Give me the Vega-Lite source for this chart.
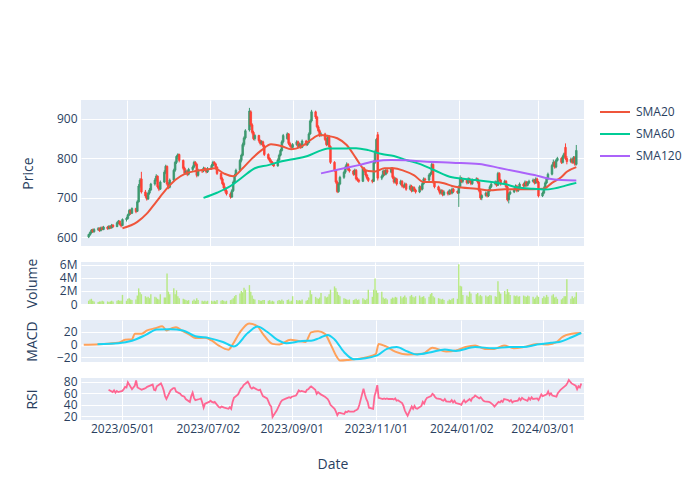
{
"$schema": "https://vega.github.io/schema/vega-lite/v6.json",
"padding": {"left": 20, "top": 96, "right": 0, "bottom": 0},
"background": "white",
"config": {
 "font": "Open Sans",
 "view": {"fill": "#E5ECF6", "stroke": null},
 "axis": {"domain": false, "ticks": false, "tickSize": 0, "gridColor": "#ffffff", "gridWidth": 1, "labelColor": "#2a3f5f", "titleColor": "#2a3f5f", "labelFontSize": 12, "titleFontSize": 14, "titleFontWeight": "normal", "labelPadding": 4, "labelOverlap": false, "labelFont": "Open Sans", "titleFont": "Open Sans"}
},
"spacing": 16,
"bounds": "flush",
"resolve": {"scale": {"x": "independent", "y": "independent", "color": "independent"}},
"datasets": {
"p": [
{"d":"2023-04-03","o":601,"h":609,"l":598,"c":607,"v":0.5},
{"d":"2023-04-04","o":606,"h":615,"l":604,"c":612,"v":0.7},
{"d":"2023-04-05","o":612,"h":621,"l":609,"c":618,"v":0.8},
{"d":"2023-04-06","o":619,"h":622,"l":611,"c":614,"v":0.5},
{"d":"2023-04-07","o":614,"h":623,"l":612,"c":620,"v":0.4},
{"d":"2023-04-10","o":620,"h":626,"l":616,"c":622,"v":0.3},
{"d":"2023-04-11","o":623,"h":625,"l":614,"c":617,"v":0.4},
{"d":"2023-04-12","o":617,"h":627,"l":615,"c":624,"v":0.4},
{"d":"2023-04-13","o":624,"h":628,"l":618,"c":620,"v":0.5},
{"d":"2023-04-14","o":620,"h":629,"l":618,"c":626,"v":0.4},
{"d":"2023-04-17","o":626,"h":629,"l":619,"c":622,"v":0.4},
{"d":"2023-04-18","o":622,"h":631,"l":620,"c":628,"v":0.3},
{"d":"2023-04-19","o":628,"h":630,"l":621,"c":624,"v":0.4},
{"d":"2023-04-20","o":624,"h":634,"l":622,"c":631,"v":0.5},
{"d":"2023-04-21","o":631,"h":633,"l":624,"c":627,"v":0.4,"r":66},
{"d":"2023-04-24","o":627,"h":640,"l":626,"c":637,"v":0.5,"r":62},
{"d":"2023-04-25","o":637,"h":644,"l":633,"c":641,"v":0.6,"r":65},
{"d":"2023-04-26","o":641,"h":643,"l":630,"c":633,"v":0.5,"r":61},
{"d":"2023-04-27","o":633,"h":636,"l":625,"c":629,"v":0.5,"r":64},
{"d":"2023-04-28","o":630,"h":648,"l":628,"c":645,"v":1.4,"r":62},
{"d":"2023-05-01","o":645,"h":652,"l":640,"c":648,"v":0.5,"r":64},
{"d":"2023-05-02","o":648,"h":660,"l":645,"c":657,"v":0.8,"r":67},
{"d":"2023-05-03","o":657,"h":672,"l":654,"c":668,"v":0.9,"r":71},
{"d":"2023-05-04","o":668,"h":671,"l":657,"c":661,"v":0.7,"r":70},
{"d":"2023-05-05","o":661,"h":676,"l":659,"c":673,"v":0.6,"r":79},
{"d":"2023-05-08","o":673,"h":675,"l":661,"c":665,"v":0.7,"r":67},
{"d":"2023-05-09","o":666,"h":694,"l":664,"c":690,"v":1.3,"r":70},
{"d":"2023-05-10","o":690,"h":735,"l":688,"c":730,"v":2.4,"r":73},
{"d":"2023-05-11","o":730,"h":750,"l":725,"c":745,"v":1.8,"r":82},
{"d":"2023-05-12","o":748,"h":766,"l":711,"c":715,"v":1.5,"r":70},
{"d":"2023-05-15","o":715,"h":720,"l":700,"c":705,"v":1.2,"r":66},
{"d":"2023-05-16","o":705,"h":712,"l":693,"c":697,"v":1.0,"r":67},
{"d":"2023-05-17","o":697,"h":716,"l":695,"c":712,"v":1.1,"r":68},
{"d":"2023-05-18","o":712,"h":725,"l":708,"c":720,"v":0.9,"r":69},
{"d":"2023-05-19","o":720,"h":738,"l":717,"c":735,"v":1.5,"r":71},
{"d":"2023-05-22","o":735,"h":750,"l":731,"c":745,"v":1.1,"r":74},
{"d":"2023-05-23","o":745,"h":760,"l":741,"c":755,"v":1.0,"r":75},
{"d":"2023-05-24","o":755,"h":757,"l":724,"c":728,"v":0.8,"r":66},
{"d":"2023-05-25","o":728,"h":732,"l":717,"c":722,"v":0.7,"r":65},
{"d":"2023-05-26","o":722,"h":744,"l":720,"c":740,"v":1.5,"r":72},
{"d":"2023-05-29","o":740,"h":770,"l":738,"c":765,"v":1.0,"r":77},
{"d":"2023-05-30","o":765,"h":784,"l":760,"c":780,"v":1.0,"r":72},
{"d":"2023-05-31","o":780,"h":782,"l":731,"c":735,"v":4.7,"r":65},
{"d":"2023-06-01","o":735,"h":740,"l":722,"c":727,"v":1.9,"r":55},
{"d":"2023-06-02","o":727,"h":749,"l":724,"c":745,"v":1.5,"r":50},
{"d":"2023-06-05","o":745,"h":774,"l":742,"c":770,"v":2.4,"r":65},
{"d":"2023-06-06","o":770,"h":794,"l":766,"c":790,"v":1.5,"r":67},
{"d":"2023-06-07","o":790,"h":808,"l":786,"c":805,"v":2.1,"r":69},
{"d":"2023-06-08","o":805,"h":813,"l":798,"c":810,"v":1.2,"r":69},
{"d":"2023-06-09","o":810,"h":812,"l":790,"c":795,"v":0.9,"r":63},
{"d":"2023-06-12","o":795,"h":797,"l":770,"c":775,"v":0.8,"r":59},
{"d":"2023-06-13","o":775,"h":779,"l":758,"c":762,"v":0.7,"r":56},
{"d":"2023-06-14","o":762,"h":772,"l":758,"c":768,"v":0.6,"r":55},
{"d":"2023-06-15","o":768,"h":771,"l":755,"c":760,"v":0.5,"r":54},
{"d":"2023-06-16","o":760,"h":776,"l":757,"c":772,"v":0.6,"r":50},
{"d":"2023-06-19","o":772,"h":782,"l":768,"c":778,"v":0.5,"r":45},
{"d":"2023-06-20","o":778,"h":794,"l":775,"c":790,"v":0.7,"r":55},
{"d":"2023-06-21","o":790,"h":793,"l":781,"c":785,"v":0.5,"r":61},
{"d":"2023-06-22","o":785,"h":788,"l":752,"c":757,"v":0.9,"r":52},
{"d":"2023-06-23","o":757,"h":774,"l":754,"c":770,"v":0.6,"r":48},
{"d":"2023-06-26","o":770,"h":773,"l":763,"c":768,"v":0.5,"r":50},
{"d":"2023-06-27","o":768,"h":779,"l":765,"c":775,"v":0.4,"r":51},
{"d":"2023-06-28","o":775,"h":778,"l":768,"c":772,"v":0.5,"r":44},
{"d":"2023-06-29","o":772,"h":775,"l":762,"c":766,"v":0.4,"r":35},
{"d":"2023-06-30","o":766,"h":778,"l":763,"c":774,"v":0.5,"r":42},
{"d":"2023-07-03","o":774,"h":786,"l":771,"c":782,"v":0.5,"r":45},
{"d":"2023-07-04","o":782,"h":794,"l":779,"c":790,"v":0.4,"r":47},
{"d":"2023-07-05","o":790,"h":793,"l":782,"c":786,"v":0.5,"r":45},
{"d":"2023-07-06","o":786,"h":789,"l":774,"c":778,"v":0.4,"r":44},
{"d":"2023-07-07","o":778,"h":780,"l":758,"c":762,"v":0.6,"r":45},
{"d":"2023-07-10","o":762,"h":764,"l":744,"c":748,"v":0.5,"r":36},
{"d":"2023-07-11","o":748,"h":752,"l":732,"c":736,"v":0.6,"r":35},
{"d":"2023-07-12","o":736,"h":740,"l":721,"c":725,"v":0.5,"r":37},
{"d":"2023-07-13","o":725,"h":729,"l":713,"c":718,"v":0.4,"r":36},
{"d":"2023-07-14","o":718,"h":722,"l":706,"c":710,"v":0.5,"r":35},
{"d":"2023-07-17","o":710,"h":714,"l":698,"c":702,"v":0.6,"r":33},
{"d":"2023-07-18","o":702,"h":722,"l":700,"c":718,"v":0.7,"r":36},
{"d":"2023-07-19","o":718,"h":744,"l":715,"c":740,"v":0.9,"r":33},
{"d":"2023-07-20","o":740,"h":761,"l":736,"c":757,"v":1.2,"r":45},
{"d":"2023-07-21","o":757,"h":774,"l":753,"c":770,"v":1.4,"r":52},
{"d":"2023-07-24","o":770,"h":799,"l":767,"c":795,"v":1.6,"r":58},
{"d":"2023-07-25","o":795,"h":812,"l":790,"c":808,"v":2.0,"r":63},
{"d":"2023-07-26","o":808,"h":840,"l":805,"c":835,"v":1.8,"r":68},
{"d":"2023-07-27","o":835,"h":856,"l":830,"c":852,"v":2.5,"r":70},
{"d":"2023-07-28","o":852,"h":874,"l":848,"c":870,"v":2.2,"r":74},
{"d":"2023-07-31","o":872,"h":928,"l":868,"c":920,"v":2.9,"r":80},
{"d":"2023-08-01","o":918,"h":922,"l":880,"c":885,"v":1.9,"r":76},
{"d":"2023-08-02","o":885,"h":889,"l":861,"c":866,"v":1.3,"r":70},
{"d":"2023-08-03","o":866,"h":870,"l":846,"c":850,"v":0.8,"r":68},
{"d":"2023-08-04","o":850,"h":862,"l":845,"c":858,"v":0.7,"r":70},
{"d":"2023-08-07","o":858,"h":860,"l":840,"c":845,"v":0.6,"r":66},
{"d":"2023-08-08","o":845,"h":848,"l":833,"c":838,"v":0.5,"r":65},
{"d":"2023-08-09","o":838,"h":846,"l":834,"c":842,"v":0.5,"r":66},
{"d":"2023-08-10","o":842,"h":845,"l":828,"c":832,"v":0.6,"r":60},
{"d":"2023-08-11","o":832,"h":835,"l":806,"c":810,"v":0.6,"r":55},
{"d":"2023-08-14","o":810,"h":813,"l":796,"c":800,"v":0.5,"r":51},
{"d":"2023-08-15","o":800,"h":803,"l":790,"c":794,"v":0.6,"r":46},
{"d":"2023-08-16","o":794,"h":798,"l":786,"c":790,"v":0.4,"r":40},
{"d":"2023-08-17","o":790,"h":793,"l":781,"c":785,"v":0.5,"r":37},
{"d":"2023-08-18","o":785,"h":789,"l":778,"c":781,"v":0.4,"r":19},
{"d":"2023-08-21","o":781,"h":800,"l":779,"c":796,"v":0.5,"r":30},
{"d":"2023-08-22","o":796,"h":812,"l":793,"c":808,"v":0.6,"r":35},
{"d":"2023-08-23","o":808,"h":824,"l":805,"c":820,"v":0.5,"r":40},
{"d":"2023-08-24","o":820,"h":846,"l":817,"c":842,"v":0.7,"r":45},
{"d":"2023-08-25","o":842,"h":862,"l":838,"c":858,"v":0.5,"r":48},
{"d":"2023-08-28","o":850,"h":866,"l":847,"c":862,"v":0.6,"r":51},
{"d":"2023-08-29","o":862,"h":864,"l":834,"c":838,"v":0.7,"r":52},
{"d":"2023-08-30","o":838,"h":842,"l":828,"c":832,"v":0.4,"r":53},
{"d":"2023-08-31","o":832,"h":835,"l":824,"c":828,"v":0.5,"r":52},
{"d":"2023-09-01","o":828,"h":839,"l":826,"c":835,"v":1.2,"r":54},
{"d":"2023-09-04","o":835,"h":846,"l":832,"c":842,"v":0.6,"r":56},
{"d":"2023-09-05","o":842,"h":845,"l":826,"c":830,"v":0.5,"r":60},
{"d":"2023-09-06","o":830,"h":840,"l":827,"c":836,"v":0.6,"r":65},
{"d":"2023-09-07","o":836,"h":838,"l":824,"c":828,"v":0.5,"r":63},
{"d":"2023-09-08","o":828,"h":848,"l":826,"c":844,"v":0.7,"r":64},
{"d":"2023-09-11","o":844,"h":847,"l":831,"c":835,"v":0.5,"r":62},
{"d":"2023-09-12","o":835,"h":844,"l":832,"c":840,"v":0.6,"r":66},
{"d":"2023-09-13","o":840,"h":866,"l":838,"c":862,"v":1.0,"r":67},
{"d":"2023-09-14","o":862,"h":899,"l":860,"c":895,"v":2.1,"r":70},
{"d":"2023-09-15","o":895,"h":923,"l":891,"c":918,"v":1.5,"r":72},
{"d":"2023-09-18","o":918,"h":921,"l":900,"c":905,"v":1.1,"r":66},
{"d":"2023-09-19","o":905,"h":908,"l":876,"c":880,"v":0.9,"r":59},
{"d":"2023-09-20","o":880,"h":884,"l":866,"c":870,"v":0.8,"r":62},
{"d":"2023-09-21","o":870,"h":874,"l":854,"c":858,"v":1.0,"r":60},
{"d":"2023-09-22","o":858,"h":866,"l":855,"c":862,"v":1.7,"r":58},
{"d":"2023-09-25","o":862,"h":865,"l":844,"c":848,"v":1.2,"r":54},
{"d":"2023-09-26","o":848,"h":852,"l":831,"c":835,"v":1.0,"r":52},
{"d":"2023-09-27","o":835,"h":860,"l":833,"c":856,"v":1.1,"r":50},
{"d":"2023-09-28","o":856,"h":859,"l":826,"c":830,"v":1.5,"r":46},
{"d":"2023-09-29","o":830,"h":833,"l":786,"c":790,"v":2.2,"r":40},
{"d":"2023-10-02","o":790,"h":793,"l":766,"c":770,"v":2.7,"r":33},
{"d":"2023-10-03","o":770,"h":773,"l":736,"c":740,"v":2.4,"r":28},
{"d":"2023-10-04","o":740,"h":744,"l":712,"c":716,"v":1.9,"r":22},
{"d":"2023-10-05","o":716,"h":739,"l":713,"c":735,"v":1.4,"r":26},
{"d":"2023-10-06","o":735,"h":756,"l":732,"c":752,"v":1.2,"r":26},
{"d":"2023-10-09","o":752,"h":769,"l":748,"c":765,"v":0.9,"r":24},
{"d":"2023-10-10","o":765,"h":782,"l":761,"c":778,"v":0.8,"r":28},
{"d":"2023-10-11","o":778,"h":790,"l":774,"c":785,"v":0.7,"r":27},
{"d":"2023-10-12","o":785,"h":788,"l":768,"c":772,"v":0.6,"r":29},
{"d":"2023-10-13","o":772,"h":776,"l":764,"c":768,"v":0.7,"r":28},
{"d":"2023-10-16","o":768,"h":771,"l":756,"c":760,"v":0.6,"r":28},
{"d":"2023-10-17","o":760,"h":774,"l":757,"c":770,"v":0.7,"r":30},
{"d":"2023-10-18","o":770,"h":773,"l":744,"c":748,"v":0.8,"r":31},
{"d":"2023-10-19","o":748,"h":752,"l":741,"c":745,"v":0.6,"r":33},
{"d":"2023-10-20","o":745,"h":749,"l":738,"c":742,"v":0.7,"r":40},
{"d":"2023-10-23","o":742,"h":779,"l":740,"c":775,"v":0.9,"r":68},
{"d":"2023-10-24","o":775,"h":778,"l":764,"c":768,"v":0.7,"r":58},
{"d":"2023-10-25","o":768,"h":771,"l":754,"c":758,"v":0.6,"r":50},
{"d":"2023-10-26","o":758,"h":761,"l":746,"c":750,"v":0.8,"r":45},
{"d":"2023-10-27","o":750,"h":753,"l":740,"c":744,"v":2.2,"r":35},
{"d":"2023-10-30","o":744,"h":748,"l":737,"c":742,"v":1.1,"r":33},
{"d":"2023-10-31","o":742,"h":795,"l":740,"c":790,"v":2.2,"r":55},
{"d":"2023-11-01","o":790,"h":822,"l":786,"c":815,"v":3.9,"r":63},
{"d":"2023-11-02","o":815,"h":852,"l":812,"c":848,"v":2.1,"r":74},
{"d":"2023-11-03","o":860,"h":867,"l":744,"c":750,"v":1.7,"r":52},
{"d":"2023-11-06","o":750,"h":759,"l":745,"c":755,"v":1.9,"r":50},
{"d":"2023-11-07","o":755,"h":772,"l":752,"c":768,"v":1.0,"r":51},
{"d":"2023-11-08","o":768,"h":771,"l":756,"c":760,"v":0.8,"r":50},
{"d":"2023-11-09","o":760,"h":774,"l":757,"c":770,"v":0.9,"r":51},
{"d":"2023-11-10","o":770,"h":773,"l":761,"c":765,"v":0.7,"r":50},
{"d":"2023-11-13","o":765,"h":778,"l":762,"c":775,"v":0.8,"r":50},
{"d":"2023-11-14","o":775,"h":778,"l":748,"c":752,"v":1.0,"r":49},
{"d":"2023-11-15","o":752,"h":756,"l":736,"c":740,"v":0.9,"r":51},
{"d":"2023-11-16","o":740,"h":752,"l":737,"c":748,"v":1.1,"r":47},
{"d":"2023-11-17","o":748,"h":751,"l":731,"c":735,"v":1.0,"r":48},
{"d":"2023-11-20","o":735,"h":746,"l":732,"c":742,"v":1.2,"r":43},
{"d":"2023-11-21","o":742,"h":745,"l":726,"c":730,"v":0.9,"r":38},
{"d":"2023-11-22","o":730,"h":733,"l":724,"c":728,"v":1.1,"r":30},
{"d":"2023-11-23","o":728,"h":739,"l":725,"c":735,"v":1.3,"r":25},
{"d":"2023-11-24","o":735,"h":738,"l":718,"c":722,"v":1.0,"r":21},
{"d":"2023-11-27","o":722,"h":734,"l":719,"c":730,"v":1.2,"r":37},
{"d":"2023-11-28","o":730,"h":733,"l":714,"c":718,"v":1.4,"r":33},
{"d":"2023-11-29","o":718,"h":730,"l":715,"c":726,"v":1.1,"r":38},
{"d":"2023-11-30","o":726,"h":729,"l":716,"c":720,"v":1.0,"r":34},
{"d":"2023-12-01","o":720,"h":723,"l":711,"c":715,"v":1.2,"r":33},
{"d":"2023-12-04","o":715,"h":732,"l":712,"c":728,"v":1.3,"r":38},
{"d":"2023-12-05","o":728,"h":731,"l":718,"c":722,"v":1.0,"r":45},
{"d":"2023-12-06","o":722,"h":740,"l":719,"c":736,"v":1.1,"r":42},
{"d":"2023-12-07","o":736,"h":752,"l":733,"c":748,"v":1.2,"r":48},
{"d":"2023-12-08","o":748,"h":751,"l":741,"c":745,"v":0.9,"r":52},
{"d":"2023-12-11","o":745,"h":762,"l":742,"c":758,"v":1.1,"r":55},
{"d":"2023-12-12","o":758,"h":766,"l":754,"c":762,"v":1.5,"r":59},
{"d":"2023-12-13","o":762,"h":789,"l":759,"c":785,"v":1.7,"r":57},
{"d":"2023-12-14","o":785,"h":787,"l":736,"c":740,"v":1.2,"r":53},
{"d":"2023-12-15","o":740,"h":743,"l":724,"c":728,"v":1.0,"r":51},
{"d":"2023-12-18","o":728,"h":731,"l":716,"c":720,"v":0.9,"r":50},
{"d":"2023-12-19","o":720,"h":724,"l":708,"c":712,"v":0.8,"r":48},
{"d":"2023-12-20","o":712,"h":722,"l":709,"c":718,"v":0.7,"r":47},
{"d":"2023-12-21","o":718,"h":721,"l":704,"c":708,"v":0.8,"r":50},
{"d":"2023-12-22","o":708,"h":719,"l":705,"c":715,"v":0.6,"r":46},
{"d":"2023-12-25","o":715,"h":718,"l":706,"c":710,"v":0.5,"r":45},
{"d":"2023-12-26","o":710,"h":722,"l":707,"c":718,"v":0.7,"r":48},
{"d":"2023-12-27","o":718,"h":721,"l":708,"c":712,"v":0.6,"r":44},
{"d":"2023-12-28","o":712,"h":726,"l":709,"c":722,"v":0.8,"r":47},
{"d":"2023-12-29","o":722,"h":725,"l":712,"c":716,"v":0.9,"r":43},
{"d":"2024-01-01","o":716,"h":719,"l":710,"c":714,"v":0.8,"r":41},
{"d":"2024-01-02","o":712,"h":732,"l":677,"c":728,"v":6.1,"r":40},
{"d":"2024-01-03","o":728,"h":757,"l":725,"c":750,"v":2.8,"r":45},
{"d":"2024-01-04","o":750,"h":753,"l":738,"c":742,"v":2.7,"r":48},
{"d":"2024-01-05","o":742,"h":749,"l":737,"c":745,"v":1.4,"r":44},
{"d":"2024-01-08","o":745,"h":748,"l":734,"c":738,"v":1.3,"r":50},
{"d":"2024-01-09","o":738,"h":752,"l":735,"c":748,"v":1.1,"r":47},
{"d":"2024-01-10","o":748,"h":751,"l":738,"c":742,"v":1.9,"r":52},
{"d":"2024-01-11","o":742,"h":745,"l":732,"c":736,"v":1.6,"r":53},
{"d":"2024-01-12","o":736,"h":749,"l":733,"c":745,"v":0.2,"r":56},
{"d":"2024-01-15","o":745,"h":752,"l":742,"c":748,"v":1.5,"r":51},
{"d":"2024-01-16","o":748,"h":751,"l":736,"c":740,"v":1.7,"r":53},
{"d":"2024-01-17","o":740,"h":743,"l":714,"c":718,"v":1.2,"r":50},
{"d":"2024-01-18","o":718,"h":721,"l":695,"c":700,"v":1.4,"r":47},
{"d":"2024-01-19","o":700,"h":710,"l":694,"c":706,"v":1.2,"r":46},
{"d":"2024-01-22","o":706,"h":716,"l":703,"c":712,"v":1.3,"r":45},
{"d":"2024-01-23","o":712,"h":715,"l":701,"c":705,"v":1.1,"r":44},
{"d":"2024-01-24","o":705,"h":722,"l":702,"c":718,"v":1.2,"r":42},
{"d":"2024-01-25","o":718,"h":732,"l":715,"c":728,"v":1.4,"r":40},
{"d":"2024-01-26","o":728,"h":739,"l":725,"c":735,"v":1.3,"r":37},
{"d":"2024-01-29","o":735,"h":744,"l":732,"c":740,"v":1.2,"r":45},
{"d":"2024-01-30","o":740,"h":743,"l":728,"c":732,"v":1.1,"r":44},
{"d":"2024-01-31","o":732,"h":766,"l":730,"c":762,"v":3.5,"r":47},
{"d":"2024-02-01","o":762,"h":765,"l":741,"c":745,"v":1.9,"r":45},
{"d":"2024-02-02","o":745,"h":748,"l":731,"c":735,"v":1.6,"r":50},
{"d":"2024-02-05","o":735,"h":746,"l":732,"c":742,"v":2.0,"r":48},
{"d":"2024-02-06","o":742,"h":745,"l":724,"c":728,"v":1.5,"r":46},
{"d":"2024-02-07","o":728,"h":731,"l":691,"c":695,"v":2.3,"r":48},
{"d":"2024-02-08","o":695,"h":714,"l":686,"c":710,"v":1.8,"r":44},
{"d":"2024-02-09","o":710,"h":719,"l":707,"c":715,"v":1.4,"r":46},
{"d":"2024-02-12","o":715,"h":726,"l":712,"c":722,"v":1.3,"r":47},
{"d":"2024-02-13","o":722,"h":734,"l":719,"c":730,"v":1.2,"r":51},
{"d":"2024-02-14","o":730,"h":733,"l":714,"c":718,"v":1.3,"r":48},
{"d":"2024-02-15","o":718,"h":730,"l":715,"c":726,"v":1.1,"r":52},
{"d":"2024-02-16","o":726,"h":739,"l":723,"c":735,"v":1.2,"r":50},
{"d":"2024-02-19","o":735,"h":738,"l":726,"c":730,"v":1.3,"r":47},
{"d":"2024-02-20","o":730,"h":744,"l":727,"c":740,"v":1.2,"r":52},
{"d":"2024-02-21","o":740,"h":743,"l":728,"c":732,"v":1.1,"r":49},
{"d":"2024-02-22","o":732,"h":742,"l":729,"c":738,"v":1.3,"r":53},
{"d":"2024-02-23","o":738,"h":746,"l":735,"c":742,"v":1.2,"r":50},
{"d":"2024-02-26","o":742,"h":749,"l":739,"c":745,"v":1.1,"r":51},
{"d":"2024-02-27","o":745,"h":748,"l":734,"c":738,"v":0.8,"r":48},
{"d":"2024-02-28","o":738,"h":752,"l":735,"c":748,"v":1.0,"r":53},
{"d":"2024-02-29","o":748,"h":751,"l":736,"c":740,"v":1.3,"r":58},
{"d":"2024-03-01","o":740,"h":743,"l":701,"c":705,"v":1.1,"r":55},
{"d":"2024-03-04","o":705,"h":716,"l":702,"c":712,"v":0.9,"r":58},
{"d":"2024-03-05","o":712,"h":729,"l":709,"c":725,"v":1.2,"r":63},
{"d":"2024-03-06","o":725,"h":742,"l":722,"c":738,"v":1.0,"r":57},
{"d":"2024-03-07","o":738,"h":752,"l":735,"c":748,"v":1.4,"r":60},
{"d":"2024-03-08","o":748,"h":764,"l":745,"c":760,"v":1.1,"r":56},
{"d":"2024-03-11","o":760,"h":786,"l":757,"c":782,"v":1.3,"r":54},
{"d":"2024-03-12","o":782,"h":797,"l":779,"c":790,"v":1.5,"r":60},
{"d":"2024-03-13","o":790,"h":793,"l":774,"c":778,"v":1.0,"r":63},
{"d":"2024-03-14","o":778,"h":799,"l":775,"c":795,"v":1.1,"r":66},
{"d":"2024-03-15","o":795,"h":804,"l":792,"c":800,"v":0.8,"r":68},
{"d":"2024-03-18","o":800,"h":803,"l":786,"c":790,"v":0.7,"r":74},
{"d":"2024-03-19","o":790,"h":809,"l":787,"c":805,"v":0.9,"r":78},
{"d":"2024-03-20","o":805,"h":815,"l":800,"c":812,"v":1.2,"r":83},
{"d":"2024-03-21","o":828,"h":838,"l":796,"c":800,"v":1.2,"r":80},
{"d":"2024-03-22","o":800,"h":806,"l":785,"c":792,"v":3.8,"r":77},
{"d":"2024-03-25","o":792,"h":802,"l":788,"c":798,"v":0.8,"r":73},
{"d":"2024-03-26","o":798,"h":801,"l":786,"c":790,"v":1.2,"r":67},
{"d":"2024-03-27","o":790,"h":806,"l":787,"c":803,"v":0.9,"r":72},
{"d":"2024-03-28","o":803,"h":806,"l":781,"c":785,"v":1.1,"r":70},
{"d":"2024-03-29","o":785,"h":834,"l":782,"c":820,"v":1.8,"r":77}
],
"sma": [
{"d":"2023-04-28","s":"SMA20","v":623},{"d":"2023-05-09","s":"SMA20","v":639},{"d":"2023-05-16","s":"SMA20","v":660},{"d":"2023-05-23","s":"SMA20","v":690},{"d":"2023-05-30","s":"SMA20","v":720},{"d":"2023-06-06","s":"SMA20","v":745},{"d":"2023-06-14","s":"SMA20","v":762},{"d":"2023-06-21","s":"SMA20","v":768},{"d":"2023-06-30","s":"SMA20","v":772},{"d":"2023-07-05","s":"SMA20","v":775},{"d":"2023-07-12","s":"SMA20","v":762},{"d":"2023-07-19","s":"SMA20","v":755},{"d":"2023-07-26","s":"SMA20","v":775},{"d":"2023-08-02","s":"SMA20","v":800},{"d":"2023-08-09","s":"SMA20","v":821},{"d":"2023-08-16","s":"SMA20","v":836},{"d":"2023-08-24","s":"SMA20","v":831},{"d":"2023-08-31","s":"SMA20","v":823},{"d":"2023-09-07","s":"SMA20","v":829},{"d":"2023-09-14","s":"SMA20","v":846},{"d":"2023-09-21","s":"SMA20","v":859},{"d":"2023-09-27","s":"SMA20","v":857},{"d":"2023-10-04","s":"SMA20","v":851},{"d":"2023-10-11","s":"SMA20","v":834},{"d":"2023-10-18","s":"SMA20","v":800},{"d":"2023-10-23","s":"SMA20","v":775},{"d":"2023-10-27","s":"SMA20","v":768},{"d":"2023-11-01","s":"SMA20","v":767},{"d":"2023-11-08","s":"SMA20","v":775},{"d":"2023-11-15","s":"SMA20","v":775},{"d":"2023-11-22","s":"SMA20","v":769},{"d":"2023-11-30","s":"SMA20","v":757},{"d":"2023-12-07","s":"SMA20","v":740},{"d":"2023-12-15","s":"SMA20","v":740},{"d":"2023-12-22","s":"SMA20","v":737},{"d":"2023-12-28","s":"SMA20","v":730},{"d":"2024-01-04","s":"SMA20","v":726},{"d":"2024-01-15","s":"SMA20","v":723},{"d":"2024-01-25","s":"SMA20","v":719},{"d":"2024-02-05","s":"SMA20","v":722},{"d":"2024-02-15","s":"SMA20","v":722},{"d":"2024-02-26","s":"SMA20","v":722},{"d":"2024-03-05","s":"SMA20","v":723},{"d":"2024-03-11","s":"SMA20","v":738},{"d":"2024-03-18","s":"SMA20","v":753},{"d":"2024-03-22","s":"SMA20","v":766},{"d":"2024-03-29","s":"SMA20","v":778},
{"d":"2023-06-27","s":"SMA60","v":700},{"d":"2023-07-07","s":"SMA60","v":713},{"d":"2023-07-17","s":"SMA60","v":730},{"d":"2023-07-26","s":"SMA60","v":753},{"d":"2023-08-04","s":"SMA60","v":775},{"d":"2023-08-14","s":"SMA60","v":783},{"d":"2023-08-24","s":"SMA60","v":793},{"d":"2023-09-01","s":"SMA60","v":798},{"d":"2023-09-12","s":"SMA60","v":806},{"d":"2023-09-21","s":"SMA60","v":819},{"d":"2023-09-27","s":"SMA60","v":825},{"d":"2023-10-09","s":"SMA60","v":825},{"d":"2023-10-18","s":"SMA60","v":826},{"d":"2023-10-27","s":"SMA60","v":821},{"d":"2023-11-06","s":"SMA60","v":811},{"d":"2023-11-15","s":"SMA60","v":806},{"d":"2023-11-24","s":"SMA60","v":796},{"d":"2023-12-05","s":"SMA60","v":785},{"d":"2023-12-15","s":"SMA60","v":770},{"d":"2023-12-28","s":"SMA60","v":752},{"d":"2024-01-04","s":"SMA60","v":749},{"d":"2024-01-15","s":"SMA60","v":745},{"d":"2024-01-25","s":"SMA60","v":741},{"d":"2024-02-05","s":"SMA60","v":735},{"d":"2024-02-15","s":"SMA60","v":726},{"d":"2024-02-26","s":"SMA60","v":723},{"d":"2024-03-05","s":"SMA60","v":721},{"d":"2024-03-13","s":"SMA60","v":724},{"d":"2024-03-21","s":"SMA60","v":731},{"d":"2024-03-29","s":"SMA60","v":738},
{"d":"2023-09-22","s":"SMA120","v":762},{"d":"2023-10-09","s":"SMA120","v":775},{"d":"2023-10-20","s":"SMA120","v":783},{"d":"2023-11-01","s":"SMA120","v":793},{"d":"2023-11-13","s":"SMA120","v":796},{"d":"2023-11-24","s":"SMA120","v":795},{"d":"2023-12-07","s":"SMA120","v":792},{"d":"2023-12-28","s":"SMA120","v":789},{"d":"2024-01-17","s":"SMA120","v":786},{"d":"2024-02-02","s":"SMA120","v":775},{"d":"2024-02-15","s":"SMA120","v":766},{"d":"2024-02-27","s":"SMA120","v":758},{"d":"2024-03-08","s":"SMA120","v":749},{"d":"2024-03-18","s":"SMA120","v":745},{"d":"2024-03-29","s":"SMA120","v":744}
],
"macd": [
{"d":"2023-04-03","m":-0.5},{"d":"2023-04-14","m":0.5},{"d":"2023-04-28","m":2.6},{"d":"2023-05-03","m":7.3},{"d":"2023-05-08","m":8},{"d":"2023-05-10","m":16.7},{"d":"2023-05-15","m":17},{"d":"2023-05-19","m":22},{"d":"2023-05-25","m":25.5},{"d":"2023-05-30","m":28.6},{"d":"2023-06-02","m":22},{"d":"2023-06-06","m":25.5},{"d":"2023-06-09","m":27},{"d":"2023-06-13","m":22},{"d":"2023-06-19","m":15},{"d":"2023-06-23","m":10},{"d":"2023-06-30","m":10.5},{"d":"2023-07-05","m":6},{"d":"2023-07-10","m":-1.6},{"d":"2023-07-17","m":-8},{"d":"2023-07-20","m":0},{"d":"2023-07-25","m":18},{"d":"2023-08-01","m":33},{"d":"2023-08-07","m":28.6},{"d":"2023-08-11","m":16.7},{"d":"2023-08-18","m":1},{"d":"2023-08-23","m":0},{"d":"2023-08-31","m":7.3},{"d":"2023-09-06","m":5.5},{"d":"2023-09-11","m":4},{"d":"2023-09-15","m":19},{"d":"2023-09-20","m":20.6},{"d":"2023-09-25","m":16.7},{"d":"2023-09-29","m":1},{"d":"2023-10-03","m":-17},{"d":"2023-10-06","m":-25},{"d":"2023-10-12","m":-24},{"d":"2023-10-30","m":-17},{"d":"2023-11-01","m":-14.6},{"d":"2023-11-03","m":1},{"d":"2023-11-08","m":-2.6},{"d":"2023-11-15","m":-11},{"d":"2023-11-24","m":-15.6},{"d":"2023-12-05","m":-14.6},{"d":"2023-12-12","m":-5},{"d":"2023-12-22","m":-11},{"d":"2023-12-29","m":-9.4},{"d":"2024-01-05","m":-4},{"d":"2024-01-12","m":-1.6},{"d":"2024-01-19","m":-6.8},{"d":"2024-01-26","m":-6.8},{"d":"2024-02-02","m":-1.6},{"d":"2024-02-09","m":-5.7},{"d":"2024-02-16","m":-4},{"d":"2024-02-26","m":1},{"d":"2024-03-05","m":0},{"d":"2024-03-11","m":3.6},{"d":"2024-03-15","m":11.4},{"d":"2024-03-22","m":16.7},{"d":"2024-03-29","m":18},
{"d":"2023-04-13","g":0.5},{"d":"2023-04-28","g":2},{"d":"2023-05-08","g":6},{"d":"2023-05-18","g":15},{"d":"2023-05-26","g":23.4},{"d":"2023-06-05","g":24},{"d":"2023-06-14","g":22},{"d":"2023-06-23","g":13},{"d":"2023-07-03","g":10},{"d":"2023-07-13","g":4},{"d":"2023-07-21","g":-3},{"d":"2023-07-31","g":18},{"d":"2023-08-07","g":28},{"d":"2023-08-14","g":20},{"d":"2023-08-21","g":8},{"d":"2023-08-28","g":2},{"d":"2023-09-07","g":5},{"d":"2023-09-12","g":6},{"d":"2023-09-15","g":6},{"d":"2023-09-21","g":10},{"d":"2023-09-27","g":15},{"d":"2023-10-02","g":8},{"d":"2023-10-09","g":-12},{"d":"2023-10-16","g":-23},{"d":"2023-11-02","g":-17},{"d":"2023-11-09","g":-6.8},{"d":"2023-11-16","g":-4},{"d":"2023-11-24","g":-11},{"d":"2023-12-01","g":-15.6},{"d":"2023-12-11","g":-12},{"d":"2023-12-21","g":-7.8},{"d":"2023-12-29","g":-10},{"d":"2024-01-12","g":-4},{"d":"2024-01-25","g":-5.7},{"d":"2024-02-06","g":-4},{"d":"2024-02-16","g":-4},{"d":"2024-02-26","g":0},{"d":"2024-03-07","g":2.6},{"d":"2024-03-13","g":4},{"d":"2024-03-22","g":11.4},{"d":"2024-03-29","g":18}
]
},
"vconcat": [
{
 "width": 503, "height": 146,
 "encoding": {"x": {"field": "d", "type": "temporal", "scale": {"type": "utc", "nice": false, "domain": [{"year":2023,"month":4,"date":1,"utc":true},{"year":2024,"month":3,"date":31,"utc":true}]}, "axis": {"labels": false, "title": null, "values": [{"year":2023,"month":5,"date":1,"utc":true},{"year":2023,"month":7,"date":2,"utc":true},{"year":2023,"month":9,"date":1,"utc":true},{"year":2023,"month":11,"date":1,"utc":true},{"year":2024,"month":1,"date":2,"utc":true},{"year":2024,"month":3,"date":1,"utc":true}]}}},
 "layer": [
  {"data": {"name": "p"}, "mark": {"type": "rule", "strokeWidth": 1},
   "encoding": {"y": {"field": "l", "type": "quantitative", "scale": {"domain": [578, 948], "nice": false, "zero": false}, "axis": {"title": "Price", "values": [600,700,800,900], "titleX": -46}},
    "y2": {"field": "h"},
    "color": {"condition": {"test": "datum.c >= datum.o", "value": "#3D9970"}, "value": "#FF4136"}}},
  {"data": {"name": "p"}, "mark": {"type": "bar", "size": 1.6, "strokeWidth": 0.8},
   "encoding": {"y": {"field": "o", "type": "quantitative", "scale": {"domain": [578, 948], "nice": false, "zero": false}, "axis": {"title": "Price", "values": [600,700,800,900], "titleX": -46}},
    "y2": {"field": "c"},
    "fill": {"condition": {"test": "datum.c >= datum.o", "value": "#3D9970"}, "value": "#FF4136"},
    "stroke": {"condition": {"test": "datum.c >= datum.o", "value": "#3D9970"}, "value": "#FF4136"}}},
  {"data": {"name": "sma"}, "mark": {"type": "line", "strokeWidth": 2, "interpolate": "monotone"},
   "encoding": {"y": {"field": "v", "type": "quantitative", "scale": {"domain": [578, 948], "nice": false, "zero": false}, "axis": {"title": "Price", "values": [600,700,800,900], "titleX": -46}},
    "color": {"field": "s", "type": "nominal", "scale": {"domain": ["SMA20","SMA60","SMA120"], "range": ["#EF553B","#00CC96","#AB63FA"]},
     "legend": {"title": null, "orient": "none", "legendX": 518, "legendY": -4, "symbolType": "stroke", "symbolSize": 900, "symbolStrokeWidth": 2, "labelFontSize": 12, "labelColor": "#2a3f5f", "labelFont": "Open Sans", "rowPadding": -4, "labelOffset": 5}}}}
 ]
},
{
 "width": 503, "height": 42,
 "data": {"name": "p"},
 "mark": {"type": "bar", "size": 1.4, "color": "#B6E880"},
 "encoding": {
  "x": {"field": "d", "type": "temporal", "scale": {"type": "utc", "nice": false, "domain": [{"year":2023,"month":4,"date":1,"utc":true},{"year":2024,"month":3,"date":31,"utc":true}]}, "axis": {"labels": false, "title": null, "values": [{"year":2023,"month":5,"date":1,"utc":true},{"year":2023,"month":7,"date":2,"utc":true},{"year":2023,"month":9,"date":1,"utc":true},{"year":2023,"month":11,"date":1,"utc":true},{"year":2024,"month":1,"date":2,"utc":true},{"year":2024,"month":3,"date":1,"utc":true}]}},
  "y": {"field": "v", "type": "quantitative", "scale": {"domain": [0, 6.45], "nice": false}, "axis": {"title": "Volume", "values": [0,2,4,6], "labelExpr": "datum.value == 0 ? '0' : datum.value + 'M'", "titleX": -42}}
 }
},
{
 "width": 503, "height": 42,
 "data": {"name": "macd"},
 "encoding": {"x": {"field": "d", "type": "temporal", "scale": {"type": "utc", "nice": false, "domain": [{"year":2023,"month":4,"date":1,"utc":true},{"year":2024,"month":3,"date":31,"utc":true}]}, "axis": {"labels": false, "title": null, "values": [{"year":2023,"month":5,"date":1,"utc":true},{"year":2023,"month":7,"date":2,"utc":true},{"year":2023,"month":9,"date":1,"utc":true},{"year":2023,"month":11,"date":1,"utc":true},{"year":2024,"month":1,"date":2,"utc":true},{"year":2024,"month":3,"date":1,"utc":true}]}}},
 "layer": [
  {"transform": [{"filter": "isValid(datum.m)"}],
   "mark": {"type": "line", "strokeWidth": 2, "interpolate": "monotone", "color": "#FFA15A"},
   "encoding": {"y": {"field": "m", "type": "quantitative", "scale": {"domain": [-27.3, 38.3], "nice": false, "zero": false}, "axis": {"title": "MACD", "values": [-20,0,20], "titleX": -42, "gridWidth": {"condition": {"test": "datum.value === 0", "value": 2}, "value": 1}}}}},
  {"transform": [{"filter": "isValid(datum.g)"}],
   "mark": {"type": "line", "strokeWidth": 2, "interpolate": "monotone", "color": "#19D3F3"},
   "encoding": {"y": {"field": "g", "type": "quantitative", "scale": {"domain": [-27.3, 38.3], "nice": false, "zero": false}, "axis": {"title": "MACD", "values": [-20,0,20], "titleX": -42, "gridWidth": {"condition": {"test": "datum.value === 0", "value": 2}, "value": 1}}}}}
 ]
},
{
 "width": 503, "height": 42,
 "data": {"name": "p"},
 "transform": [{"filter": "isValid(datum.r)"}],
 "mark": {"type": "line", "strokeWidth": 1.8, "color": "#FF6692"},
 "encoding": {
  "x": {"field": "d", "type": "temporal", "scale": {"type": "utc", "nice": false, "domain": [{"year":2023,"month":4,"date":1,"utc":true},{"year":2024,"month":3,"date":31,"utc":true}]}, "axis": {"title": "Date", "titlePadding": 23, "labelPadding": 3, "format": "%Y/%m/%d", "labelFlush": false, "values": [{"year":2023,"month":5,"date":1,"utc":true},{"year":2023,"month":7,"date":2,"utc":true},{"year":2023,"month":9,"date":1,"utc":true},{"year":2023,"month":11,"date":1,"utc":true},{"year":2024,"month":1,"date":2,"utc":true},{"year":2024,"month":3,"date":1,"utc":true}]}},
  "y": {"field": "r", "type": "quantitative", "scale": {"domain": [13.6, 86.4], "nice": false, "zero": false}, "axis": {"title": "RSI", "values": [20,40,60,80], "titleX": -42}}
 }
}
]
}
